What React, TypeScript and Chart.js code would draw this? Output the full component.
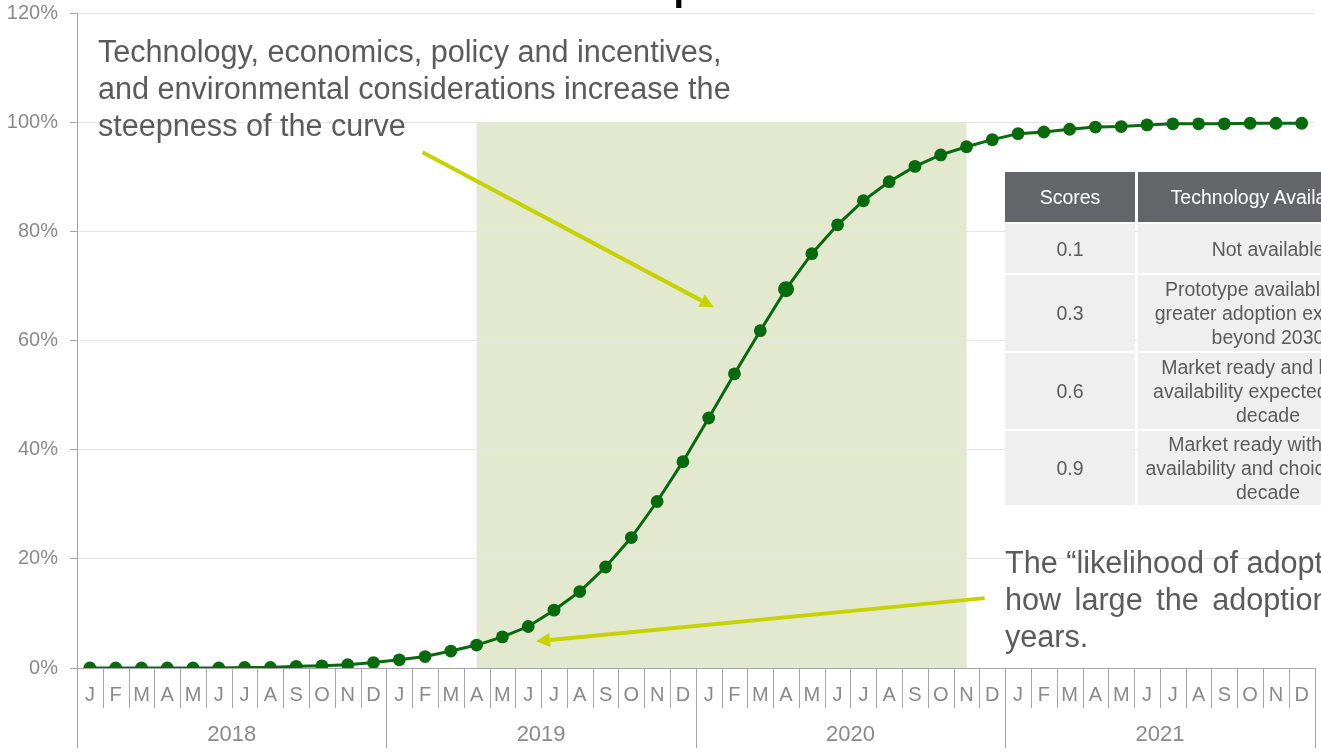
import React, { useEffect, useRef } from 'react';
import { Chart, registerables } from 'chart.js';

Chart.register(...registerables);

const FONT = '"Liberation Sans", Arial, Helvetica, sans-serif';

// ---- data ----
const monthLetters = ['J', 'F', 'M', 'A', 'M', 'J', 'J', 'A', 'S', 'O', 'N', 'D'];
const years = ['2018', '2019', '2020', '2021'];
const adoption2018 = [0, 0, 0, 0, 0, 0, 0.1, 0.1, 0.3, 0.4, 0.6, 1.0];
const adoption2019 = [1.5, 2.1, 3.1, 4.2, 5.7, 7.6, 10.6, 14.0, 18.5, 23.9, 30.5, 37.8];
const adoption2020 = [45.8, 53.9, 61.8, 69.4, 75.9, 81.2, 85.6, 89.1, 91.9, 94.0, 95.5, 96.8];
const adoption2021 = [97.9, 98.2, 98.7, 99.1, 99.2, 99.5, 99.7, 99.7, 99.7, 99.8, 99.8, 99.8];
const yTickValues = [0, 20, 40, 60, 80, 100, 120];

// shaded "steep" window (category indices) and highlighted point
const shadeStartIndex = 15; // Apr 2019
const shadeEndIndex = 34; // Nov 2020
const shadeTop = 100;
const highlightIndex = 27; // Apr 2020

// annotation arrows, in data coordinates [categoryIndex, percent]
const arrowSteep = { from: [12.9, 94.5], to: [24.2, 66.1] };
const arrowLikelihood = { from: [34.7, 12.8], to: [17.3, 4.9] };

const tableHeader = ['Scores', 'Technology Availability'];
const tableScores = ['0.1', '0.3', '0.6', '0.9'];
const tableDescriptions = [
  ['Not available'],
  ['Prototype available with', 'greater adoption expected', 'beyond 2030'],
  ['Market ready and limited', 'availability expected within', 'decade'],
  ['Market ready with wide', 'availability and choice within', 'decade'],
];

const labels = years.flatMap(() => monthLetters);
const values = [...adoption2018, ...adoption2019, ...adoption2020, ...adoption2021];

const LINE_GREEN = '#076a0c';
const ARROW = '#c6d300';
const AXIS_GRAY = '#a6a6a6';
const LABEL_GRAY = '#8a8a8a';

function drawArrow(ctx: CanvasRenderingContext2D, x1: number, y1: number, x2: number, y2: number) {
  const ang = Math.atan2(y2 - y1, x2 - x1);
  const head = 14;
  const hw = 7;
  const bx = x2 - head * Math.cos(ang);
  const by = y2 - head * Math.sin(ang);
  ctx.save();
  ctx.strokeStyle = ARROW;
  ctx.fillStyle = ARROW;
  ctx.lineWidth = 4;
  ctx.beginPath();
  ctx.moveTo(x1, y1);
  ctx.lineTo(bx, by);
  ctx.stroke();
  ctx.beginPath();
  ctx.moveTo(x2, y2);
  ctx.lineTo(bx + hw * Math.sin(ang), by - hw * Math.cos(ang));
  ctx.lineTo(bx - hw * Math.sin(ang), by + hw * Math.cos(ang));
  ctx.closePath();
  ctx.fill();
  ctx.restore();
}

const decorPlugin = {
  id: 'decor',
  beforeDraw(chart: any) {
    const { ctx, scales } = chart;
    const x = scales.x;
    const y = scales.y;
    const x0 = x.getPixelForValue(shadeStartIndex);
    const x1 = x.getPixelForValue(shadeEndIndex);
    const yt = y.getPixelForValue(shadeTop);
    const yb = y.getPixelForValue(0);
    ctx.save();
    ctx.fillStyle = '#e2e9cf';
    ctx.fillRect(x0, yt, x1 - x0, yb - yt);
    ctx.restore();
  },
  afterDraw(chart: any) {
    const { ctx, chartArea, scales } = chart;
    const x = scales.x;
    const y = scales.y;
    const n = chart.data.labels.length;
    const step = chartArea.width / n;
    const bottom = chartArea.bottom;
    ctx.save();
    ctx.strokeStyle = AXIS_GRAY;
    ctx.lineWidth = 1;
    for (let i = 0; i <= n; i++) {
      const px = Math.round(x.getPixelForValue(i) - step / 2) + 0.5;
      const isYear = i % 12 === 0;
      ctx.beginPath();
      ctx.moveTo(px, bottom);
      ctx.lineTo(px, bottom + (isYear ? 80 : 40));
      ctx.stroke();
    }
    ctx.fillStyle = LABEL_GRAY;
    ctx.textAlign = 'center';
    ctx.textBaseline = 'middle';
    ctx.font = `20px ${FONT}`;
    chart.data.labels.forEach((lab: string, i: number) => {
      ctx.fillText(lab, x.getPixelForValue(i), bottom + 27);
    });
    ctx.font = `22px ${FONT}`;
    years.forEach((yr, k) => {
      const a = x.getPixelForValue(k * 12) - step / 2;
      const b = x.getPixelForValue(k * 12 + 11) + step / 2;
      ctx.fillText(yr, (a + b) / 2, bottom + 67);
    });
    ctx.restore();

    drawArrow(
      ctx,
      x.getPixelForValue(arrowSteep.from[0]), y.getPixelForValue(arrowSteep.from[1]),
      x.getPixelForValue(arrowSteep.to[0]), y.getPixelForValue(arrowSteep.to[1])
    );
    drawArrow(
      ctx,
      x.getPixelForValue(arrowLikelihood.from[0]), y.getPixelForValue(arrowLikelihood.from[1]),
      x.getPixelForValue(arrowLikelihood.to[0]), y.getPixelForValue(arrowLikelihood.to[1])
    );
  },
};

function TextBlock({ left, top, lines, spacing }: { left: number; top: number; lines: string[]; spacing?: number[] }) {
  return (
    <div
      style={{
        position: 'absolute',
        left,
        top,
        fontFamily: FONT,
        fontSize: 30.6,
        lineHeight: '37px',
        color: '#5b5b5b',
        whiteSpace: 'nowrap',
      }}
    >
      {lines.map((l, i) => (
        <div key={i} style={{ wordSpacing: spacing ? spacing[i] : 0 }}>{l}</div>
      ))}
    </div>
  );
}

function ScoreTable() {
  const rowHeights = [49, 76, 76, 74];
  const cellText: React.CSSProperties = {
    display: 'flex',
    alignItems: 'center',
    justifyContent: 'center',
    textAlign: 'center',
    fontFamily: FONT,
    fontSize: 19.5,
    lineHeight: '24px',
  };
  return (
    <div style={{ position: 'absolute', left: 1005, top: 172, width: 400 }}>
      <div style={{ display: 'flex', height: 50, marginBottom: 2 }}>
        <div style={{ ...cellText, width: 130, background: '#636569', color: '#ffffff', marginRight: 3 }}>{tableHeader[0]}</div>
        <div style={{ ...cellText, width: 260, background: '#636569', color: '#ffffff' }}>{tableHeader[1]}</div>
      </div>
      {tableScores.map((s, i) => (
        <div key={s} style={{ display: 'flex', height: rowHeights[i], marginBottom: 2 }}>
          <div style={{ ...cellText, width: 130, background: '#efefef', color: '#5b5b5b', marginRight: 3 }}>{s}</div>
          <div style={{ ...cellText, width: 260, background: '#efefef', color: '#5b5b5b', flexDirection: 'column' }}>
            {tableDescriptions[i].map((t, j) => (
              <div key={j} style={{ whiteSpace: 'nowrap' }}>{t}</div>
            ))}
          </div>
        </div>
      ))}
    </div>
  );
}

export default function App() {
  const canvasRef = useRef<HTMLCanvasElement | null>(null);

  useEffect(() => {
    const canvas = canvasRef.current;
    if (!canvas) return;
    const chart = new Chart(canvas, {
      type: 'line',
      data: {
        labels,
        datasets: [
          {
            data: values,
            borderColor: LINE_GREEN,
            backgroundColor: LINE_GREEN,
            borderWidth: 3,
            pointRadius: values.map((_, i) => (i === highlightIndex ? 8 : 6.4)),
            pointBorderWidth: 0,
            pointBackgroundColor: LINE_GREEN,
            tension: 0,
            fill: false,
          },
        ],
      },
      options: {
        responsive: false,
        animation: false,
        devicePixelRatio: 1,
        layout: { padding: { top: 13, bottom: 84, left: 0, right: 4 } },
        plugins: {
          legend: { display: false },
          tooltip: { enabled: false },
          title: { display: false },
        },
        scales: {
          x: {
            type: 'category',
            offset: true,
            display: false,
          },
          y: {
            min: yTickValues[0],
            max: yTickValues[yTickValues.length - 1],
            afterBuildTicks: (scale: any) => {
              scale.ticks = yTickValues.map((v) => ({ value: v }));
            },
            afterFit: (scale: any) => {
              scale.width = 77;
              scale.paddingTop = 0;
              scale.paddingBottom = 0;
            },
            ticks: {
              callback: (v: any) => `${v}%`,
              color: LABEL_GRAY,
              font: { family: FONT, size: 20 },
              padding: 12,
            },
            grid: {
              color: (c: any) => (c.tick && c.tick.value === 0 ? AXIS_GRAY : '#e5e5e5'),
              tickColor: AXIS_GRAY,
              tickLength: 7,
              lineWidth: 1,
            },
            border: { color: AXIS_GRAY, width: 1 },
          },
        },
      },
      plugins: [decorPlugin],
    });
    return () => chart.destroy();
  }, []);

  return (
    <div
      style={{
        position: 'fixed',
        left: 0,
        top: 0,
        width: 1321,
        height: 752,
        overflow: 'hidden',
        background: '#ffffff',
      }}
    >
      <canvas ref={canvasRef} width={1321} height={752} style={{ position: 'absolute', left: 0, top: 0 }} />
      <div
        style={{
          position: 'absolute',
          left: 572,
          top: -32.5,
          fontFamily: FONT,
          fontWeight: 'bold',
          fontSize: 38,
          lineHeight: '38px',
          color: '#000000',
          whiteSpace: 'nowrap',
        }}
      >
        Example
      </div>
      <TextBlock
        left={98}
        top={33}
        lines={[
          'Technology, economics, policy and incentives,',
          'and environmental considerations increase the',
          'steepness of the curve',
        ]}
      />
      <ScoreTable />
      <TextBlock
        left={1005}
        top={544}
        lines={[
          'The \u201clikelihood of adoption\u201d score indicates',
          'how large the adoption is expected to be in the next few',
          'years.',
        ]}
        spacing={[0, 5, 0]}
      />
    </div>
  );
}
